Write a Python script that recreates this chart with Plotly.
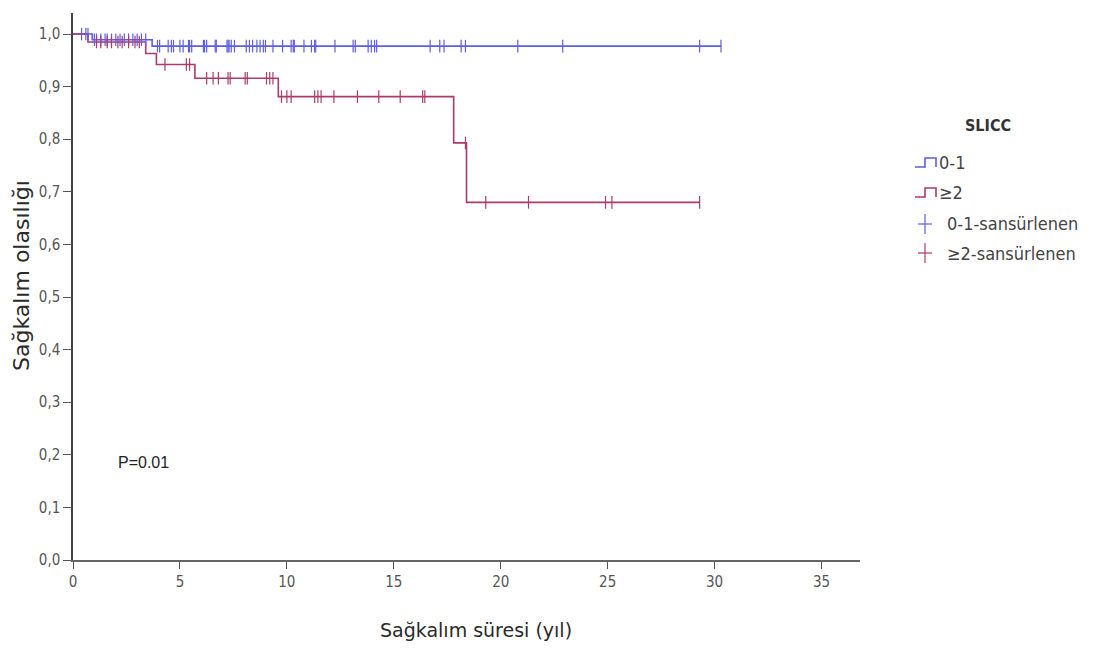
import plotly.graph_objects as go

# ---- data ----
blue_times = [0, 0.9, 3.7, 30.3]
blue_surv = [1.0, 0.989, 0.977, 0.977]
purple_times = [0, 0.7, 3.4, 3.9, 5.7, 9.6, 17.8, 18.4, 29.3]
purple_surv = [1.0, 0.985, 0.963, 0.942, 0.916, 0.881, 0.793, 0.680, 0.680]

blue_censor = [0.4, 0.6, 0.7, 1.0, 1.1, 1.3, 1.5, 1.6, 1.8, 2.0, 2.2, 2.4, 2.6, 2.8,
               3.0, 3.2, 3.4, 3.95, 4.05, 4.45, 4.6, 4.7, 5.0, 5.15, 5.4, 5.45, 5.55,
               6.1, 6.15, 6.25, 6.65, 6.7, 7.2, 7.25, 7.3, 7.4, 7.55, 8.1, 8.25, 8.4,
               8.6, 8.75, 8.9, 9.0, 9.35, 9.8, 10.2, 10.3, 10.35, 10.8, 11.15, 11.3,
               11.35, 12.25, 13.1, 13.2, 13.8, 13.95, 14.1, 14.2, 16.7, 17.15, 17.35,
               18.15, 18.35, 20.8, 22.9, 29.3, 30.3]
purple_censor = [1.1, 1.3, 1.6, 1.8, 2.1, 2.3, 2.6, 2.9, 3.1, 4.3, 5.3, 5.45, 6.25,
                 6.55, 6.8, 7.25, 7.35, 8.05, 8.15, 9.05, 9.2, 9.35, 9.75, 10.0, 10.2,
                 11.3, 11.45, 11.6, 12.2, 13.3, 14.3, 15.3, 16.35, 16.45, 18.35, 19.3,
                 21.3, 24.9, 25.2, 29.3]

y_tickvals = [0.0, 0.1, 0.2, 0.3, 0.4, 0.5, 0.6, 0.7, 0.8, 0.9, 1.0]
y_ticktext = ["0,0", "0,1", "0,2", "0,3", "0,4", "0,5", "0,6", "0,7", "0,8", "0,9", "1,0"]
x_tickvals = [0, 5, 10, 15, 20, 25, 30, 35]

group_names = ["0-1", "≥2"]
censor_names = ["0-1-sansürlenen", "≥2-sansürlenen"]
legend_title = "SLICC"
p_text = "P=0.01"
x_title = "Sağkalım süresi (yıl)"
y_title = "Sağkalım olasılığı"

BLUE = "#5e5ee0"
PURPLE = "#ad3a6c"


def step_value(times, surv, t):
    v = surv[0]
    for ti, si in zip(times, surv):
        if ti <= t:
            v = si
    return v


fig = go.Figure()
fig.add_trace(go.Scatter(x=blue_times, y=blue_surv, mode="lines", line_shape="hv",
                         line=dict(color=BLUE, width=1.6), showlegend=False))
fig.add_trace(go.Scatter(x=purple_times, y=purple_surv, mode="lines", line_shape="hv",
                         line=dict(color=PURPLE, width=1.6), showlegend=False))
fig.add_trace(go.Scatter(x=blue_censor,
                         y=[step_value(blue_times, blue_surv, t) for t in blue_censor],
                         mode="markers",
                         marker=dict(symbol="line-ns", size=9, line=dict(color=BLUE, width=1.2)),
                         showlegend=False))
fig.add_trace(go.Scatter(x=purple_censor,
                         y=[step_value(purple_times, purple_surv, t) for t in purple_censor],
                         mode="markers",
                         marker=dict(symbol="line-ns", size=9, line=dict(color=PURPLE, width=1.2)),
                         showlegend=False))

# ---- layout geometry ----
# the page body adds an 8px margin, so the figure is offset by OFF pixels
OFF = 8
W, H = 1098 - 2 * OFF, 651 - 2 * OFF
PLOT_LEFT, PLOT_RIGHT, PLOT_TOP, PLOT_BOTTOM = 73, 860, 13, 560   # page pixels
L = PLOT_LEFT - OFF
R = W - (PLOT_RIGHT - OFF)
T = PLOT_TOP - OFF
B = H - (PLOT_BOTTOM - OFF)
PW, PH = PLOT_RIGHT - PLOT_LEFT, PLOT_BOTTOM - PLOT_TOP


def px(xp):
    return (xp - PLOT_LEFT) / PW


def py(yp):
    return (PLOT_BOTTOM - yp) / PH


TICKFONT = dict(family="DejaVu Sans Condensed, DejaVu Sans, sans-serif", size=15, color="#555555")
LEGFONT = dict(family="DejaVu Sans Condensed, DejaVu Sans, sans-serif", size=18, color="#444444")

shapes = []
annotations = []

# legend glyphs
for i, col in enumerate([BLUE, PURPLE]):
    base = 167 + 30 * i
    top = 158 + 30 * i
    path = "M {} {} L {} {} L {} {} L {} {} L {} {}".format(
        px(915), py(base), px(925), py(base), px(925), py(top), px(936), py(top), px(936), py(base))
    shapes.append(dict(type="path", xref="paper", yref="paper", path=path,
                       line=dict(color=col, width=1.6)))
    annotations.append(dict(xref="paper", yref="paper", x=px(937), y=py(162 + 30 * i),
                            text=group_names[i], showarrow=False, xanchor="left",
                            yanchor="middle", font=LEGFONT))
for i, col in enumerate([BLUE, PURPLE]):
    cy = 224 + 29 * i
    shapes.append(dict(type="line", xref="paper", yref="paper", x0=px(918), x1=px(932),
                       y0=py(cy), y1=py(cy), line=dict(color=col, width=1.2)))
    shapes.append(dict(type="line", xref="paper", yref="paper", x0=px(925), x1=px(925),
                       y0=py(cy - 10), y1=py(cy + 10), line=dict(color=col, width=1.2)))
    annotations.append(dict(xref="paper", yref="paper", x=px(945), y=py(cy),
                            text=censor_names[i], showarrow=False, xanchor="left",
                            yanchor="middle", font=LEGFONT))

annotations.append(dict(xref="paper", yref="paper", x=px(988), y=py(126),
                        text="<b>" + legend_title + "</b>", showarrow=False,
                        xanchor="center", yanchor="middle",
                        font=dict(family="DejaVu Sans Condensed, DejaVu Sans, sans-serif",
                                  size=16, color="#333333")))

annotations.append(dict(xref="paper", yref="paper", x=px(116), y=py(463),
                        text=p_text, showarrow=False, xanchor="left", yanchor="middle",
                        font=dict(family="Liberation Sans, Arial, sans-serif", size=16,
                                  color="#222222")))

# y axis title
annotations.append(dict(xref="paper", yref="paper", x=px(21), y=py(276),
                        text=y_title, showarrow=False, textangle=-90,
                        xanchor="center", yanchor="middle",
                        font=dict(family="DejaVu Sans, sans-serif", size=22, color="#2a2a2a")))
# x axis title
annotations.append(dict(xref="paper", yref="paper", x=px(476), y=py(630),
                        text=x_title, showarrow=False,
                        xanchor="center", yanchor="middle",
                        font=dict(family="DejaVu Sans, sans-serif", size=19, color="#2a2a2a")))

fig.update_layout(
    width=W, height=H,
    margin=dict(l=L, r=R, t=T, b=B, autoexpand=False),
    paper_bgcolor="white", plot_bgcolor="white",
    shapes=shapes, annotations=annotations,
    showlegend=False,
)
fig.update_xaxes(range=[0, 36.8], tickvals=x_tickvals, ticks="outside", ticklen=7,
                 tickcolor="#555555", showline=True, linecolor="#666666", linewidth=2,
                 showgrid=False, zeroline=False, tickfont=TICKFONT, automargin=False)
fig.update_yaxes(range=[0, 1.04], tickvals=y_tickvals, ticktext=y_ticktext,
                 ticks="outside", ticklen=8, tickcolor="#555555", showline=True,
                 linecolor="#444444", linewidth=1.5, showgrid=False, zeroline=False,
                 tickfont=TICKFONT, automargin=False)

fig.write_html("out.html")
